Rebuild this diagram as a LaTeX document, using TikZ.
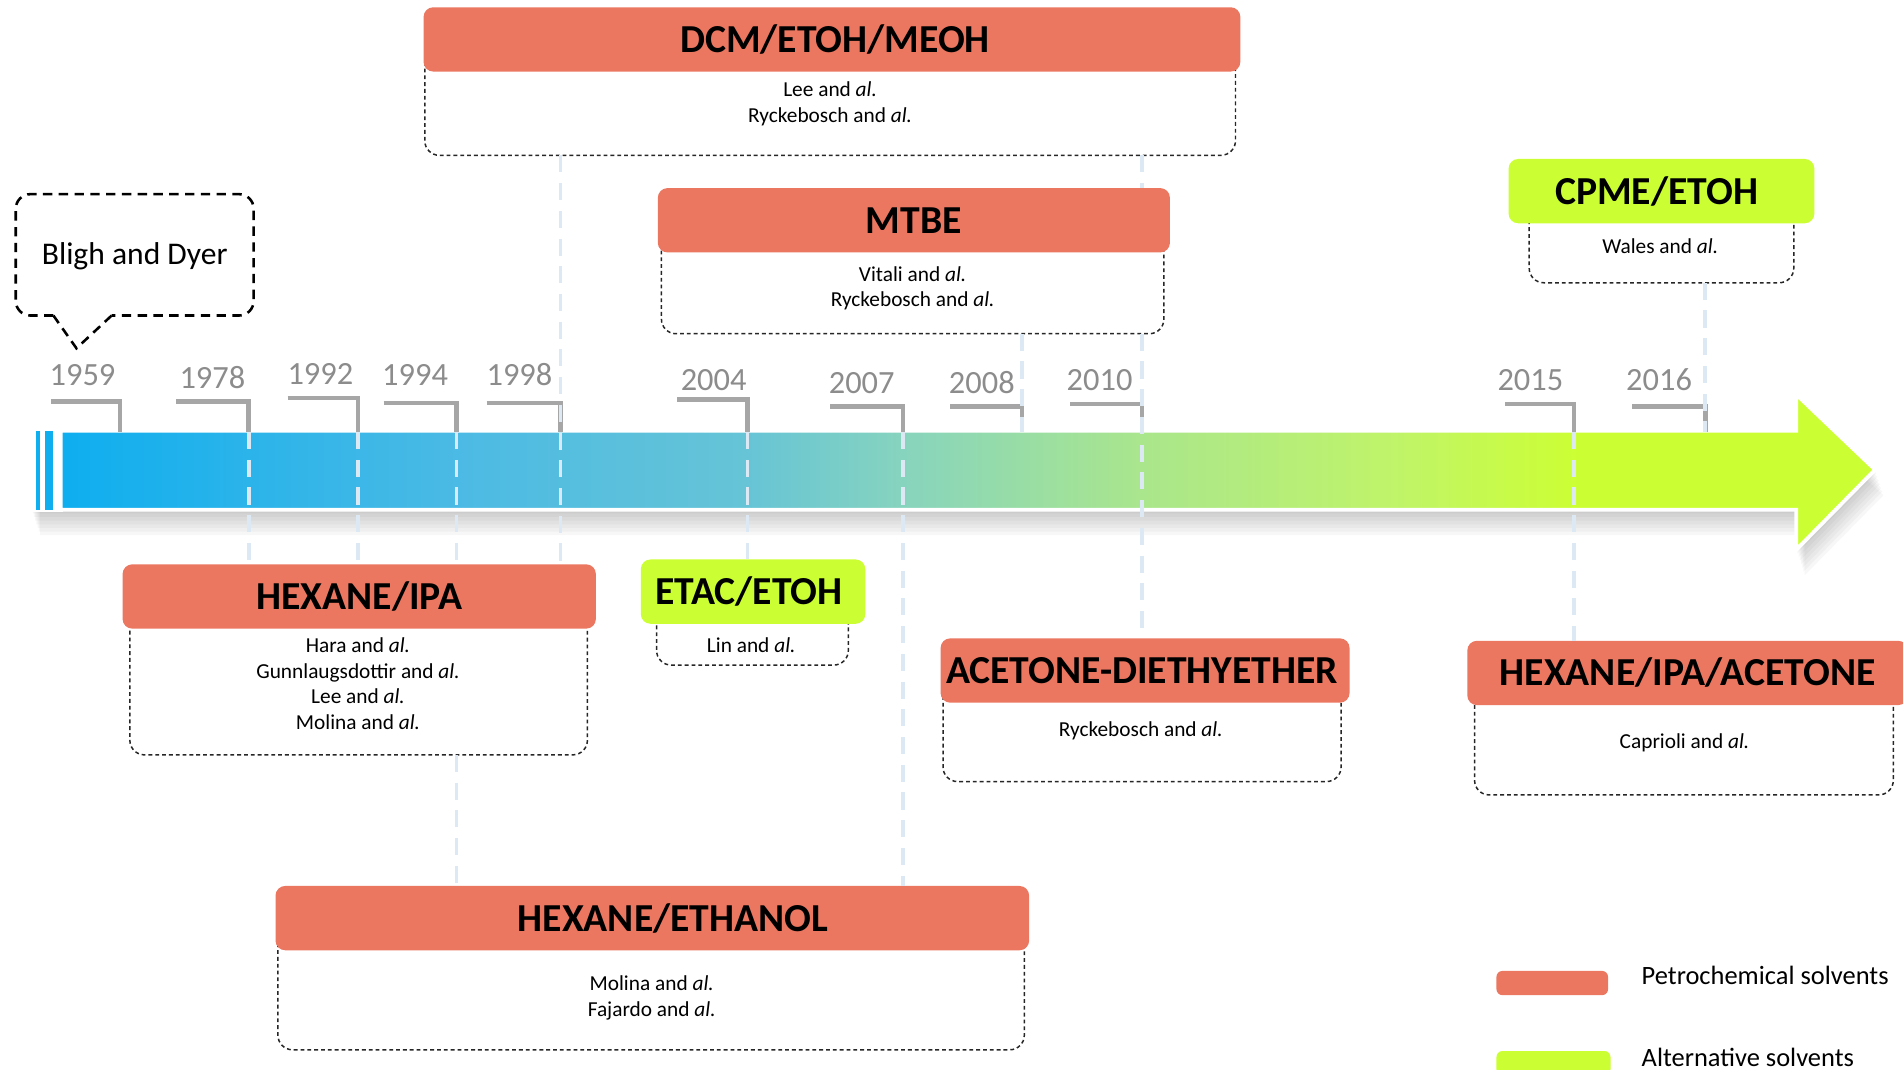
\documentclass[tikz,border=0pt]{standalone}
\usepackage{fontspec}
\setmainfont{Carlito}
\usepackage{xcolor}
\usepackage{tikz}
\definecolor{petro}{HTML}{EB7761}
\definecolor{alt}{HTML}{CCFF33}
\definecolor{yrgray}{HTML}{8C8C8C}
\definecolor{mkgray}{HTML}{A6A6A6}
\definecolor{lnk}{HTML}{DCE9F5}
\definecolor{tlA}{RGB}{14,174,239}
\definecolor{tlB}{RGB}{75,186,228}
\definecolor{tlC}{RGB}{102,196,214}
\definecolor{tlD}{RGB}{135,212,190}
\definecolor{tlE}{RGB}{170,230,140}
\definecolor{tlF}{RGB}{192,244,105}
\definecolor{tlG}{RGB}{204,255,51}
\pgfdeclarehorizontalshading{tline}{100bp}{color(0bp)=(tlA); color(25bp)=(tlA); color(35.9bp)=(tlB); color(43.9bp)=(tlC); color(48.2bp)=(tlD); color(54.8bp)=(tlE); color(61.8bp)=(tlF); color(66.8bp)=(tlG); color(100bp)=(tlG)}
\newcommand\hdfont{\fontsize{9.3}{11}\selectfont\bfseries}
\newcommand\rffont{\fontsize{5}{6}\selectfont}
\newcommand\yrfont{\fontsize{7.6}{9}\selectfont}
\newcommand\blfont{\fontsize{7.4}{9}\selectfont}
\newcommand\lgfont{\fontsize{6.2}{7.5}\selectfont}
\tikzset{
  hdr/.style={rounded corners=0.8mm,inner sep=0pt,outer sep=0pt,minimum height=5.3mm,font=\hdfont},
  body/.style={draw=black!85,dash pattern=on 0.9pt off 0.7pt,line width=0.35pt,rounded corners=1.2mm,inner sep=0pt,outer sep=0pt,fill=white},
  refs/.style={font=\rffont,align=center,inner sep=0pt},
  yrlab/.style={text=yrgray,font=\yrfont,inner sep=0pt},
  yrln/.style={draw=mkgray,line width=1.1pt},
  lk/.style={draw=lnk,line width=0.8pt,dash pattern=on 4pt off 2.5pt},
  callb/.style={draw=black,line width=0.6pt,dash pattern=on 2.2pt off 1.5pt},
  lgtext/.style={font=\lgfont,inner sep=0pt}
}
\begin{document}
\begin{tikzpicture}[x=0.1mm,y=-0.1mm]
\useasboundingbox (0,0) rectangle (1568,881);
% timeline arrow
\foreach \s in {1,...,7}
  \fill[black,opacity=0.03,xshift=\s*0.1mm,yshift=-\s*0.3mm] (26,360) -- (1480,360) -- (1480,330) -- (1545,387) -- (1480,453) -- (1480,420) -- (26,420) -- cycle;
\fill[white] (26,353) rectangle (52,422);
\shadedraw[shading=tline,draw=white,line width=0.9pt] (50,355) -- (1480,355) -- (1480,325) -- (1545,387) -- (1480,453) -- (1480,420) -- (50,420) -- cycle;
\fill[tlA] (30,355) rectangle (33,420);
\fill[tlA] (37,355) rectangle (44,420);
% years
\foreach \yr/\lx/\ly/\hs/\hy/\ve in {1959/68/309/42/331/99, 1978/175/311/145/331/205, 1992/264/308/237/328/295, 1994/342/309/316/332/376, 1998/428/309/401/332/462, 2004/588/313/558/329/616, 2007/710/316/684/335/744, 2008/809/315/783/335/842, 2010/906/313/882/333/941, 2015/1261/313/1240/333/1297, 2016/1367/313/1345/335/1405}{
  \node[yrlab] (y\yr) at (\lx,\ly) {\yr};
  \coordinate (t\yr) at (\ve,356);
  \draw[yrln] (\hs,\hy) -| (t\yr);
}
% solvents
\node[body,minimum width=66.8mm,minimum height=9.55mm] (dcmb) at (684,80.25) {};
\node[hdr,fill=petro,minimum width=67.3mm] (dcm) at (685.5,32.5) {\hspace*{0.5mm}DCM/ETOH/MEOH};
\node[refs] (dcmr) at (684,85.5) {Lee and \textit{al.}\\Ryckebosch and \textit{al.}};

\node[body,minimum width=41.4mm,minimum height=9.35mm] (mtbeb) at (752,228.25) {};
\node[hdr,fill=petro,minimum width=42.2mm] (mtbe) at (753,181.5) {MTBE};
\node[refs] (mtber) at (752,237.5) {Vitali and \textit{al.}\\Ryckebosch and \textit{al.}};

\node[body,minimum width=21.8mm,minimum height=7.55mm] (cpmeb) at (1369,195.25) {};
\node[hdr,fill=alt,minimum width=25.2mm] (cpme) at (1369,157.5) {CPME/ETOH\hspace*{0.8mm}};
\node[refs] (cpmer) at (1368,203) {Wales and \textit{al.}};

\node[body,minimum width=37.7mm,minimum height=13.05mm] (hipab) at (295.5,556.75) {};
\node[hdr,fill=petro,minimum width=39mm] (hipa) at (296,491.5) {HEXANE/IPA};
\node[refs] (hipar) at (295,563.5) {Hara and \textit{al.}\\Gunnlaugsdottir and \textit{al.}\\Lee and \textit{al.}\\Molina and \textit{al.}};

\node[body,minimum width=15.8mm,minimum height=6.05mm] (etacb) at (620,517.75) {};
\node[hdr,fill=alt,minimum width=18.5mm] (etac) at (620.5,487.5) {ETAC/ETOH\hspace*{0.7mm}};
\node[refs] (etacr) at (619,532) {Lin and \textit{al.}};

\node[body,minimum width=32.8mm,minimum height=9.15mm] (acetb) at (941,598.25) {};
\node[hdr,fill=petro,minimum width=33.7mm] (acet) at (943.5,552.5) {ACETONE-DIETHYETHER\hspace*{0.5mm}};
\node[refs] (acetr) at (940,602) {Ryckebosch and \textit{al.}};

\node[body,minimum width=34.5mm,minimum height=10.05mm] (hiab) at (1387.5,604.75) {};
\node[hdr,fill=petro,minimum width=36.3mm] (hia) at (1390.5,554.5) {HEXANE/IPA/ACETONE};
\node[refs] (hiar) at (1388,612) {Caprioli and \textit{al.}};

\node[body,minimum width=61.5mm,minimum height=10.85mm] (hethb) at (536.5,810.75) {};
\node[hdr,fill=petro,minimum width=62.1mm] (heth) at (537.5,756.5) {\hspace*{3.4mm}HEXANE/ETHANOL};
\node[refs] (hethr) at (537,822.5) {Molina and \textit{al.}\\Fajardo and \textit{al.}};
% links
\draw[lk] (t1978) -- (hipa.north -| t1978);
\draw[lk] (t1992) -- (hipa.north -| t1992);
\draw[lk] (t1994) -- (hipa.north -| t1994);
\draw[lk] (hipab.south -| t1994) -- (heth.north -| t1994);
\draw[lk] (dcmb.south -| t1998) -- (hipa.north -| t1998);
\draw[lk] (t2004) -- (etac.north -| t2004);
\draw[lk] (t2007) -- (heth.north -| t2007);
\draw[lk] (mtbeb.south -| t2008) -- (t2008);
\draw[lk] (dcmb.south -| t2010) -- (mtbe.north -| t2010);
\draw[lk] (mtbeb.south -| t2010) -- (t2010) -- (acet.north -| t2010);
\draw[lk] (t2015) -- (hia.north -| t2015);
\draw[lk] (cpmeb.south -| t2016) -- (t2016);
% callout
\draw[callb,rounded corners=1.2mm] (44,260) -- (13,260) -- (13,160) -- (209,160) -- (209,260) -- (92,260);
\draw[callb] (92,260) -- (63,287) -- (44,260);
\node[font=\blfont,inner sep=0pt] (bd) at (111,211) {Bligh and Dyer};
% legend
\node[hdr,fill=petro,minimum width=9.2mm,minimum height=2mm,rounded corners=0.5mm] (lgp) at (1279,810) {};
\node[lgtext,anchor=west] (lgpt) at (1352,804) {Petrochemical solvents};
\node[hdr,fill=alt,minimum width=9.4mm,minimum height=2mm,rounded corners=0.5mm] (lga) at (1280,876) {};
\node[lgtext,anchor=west] (lgat) at (1352,871) {Alternative solvents};
\end{tikzpicture}
\end{document}
